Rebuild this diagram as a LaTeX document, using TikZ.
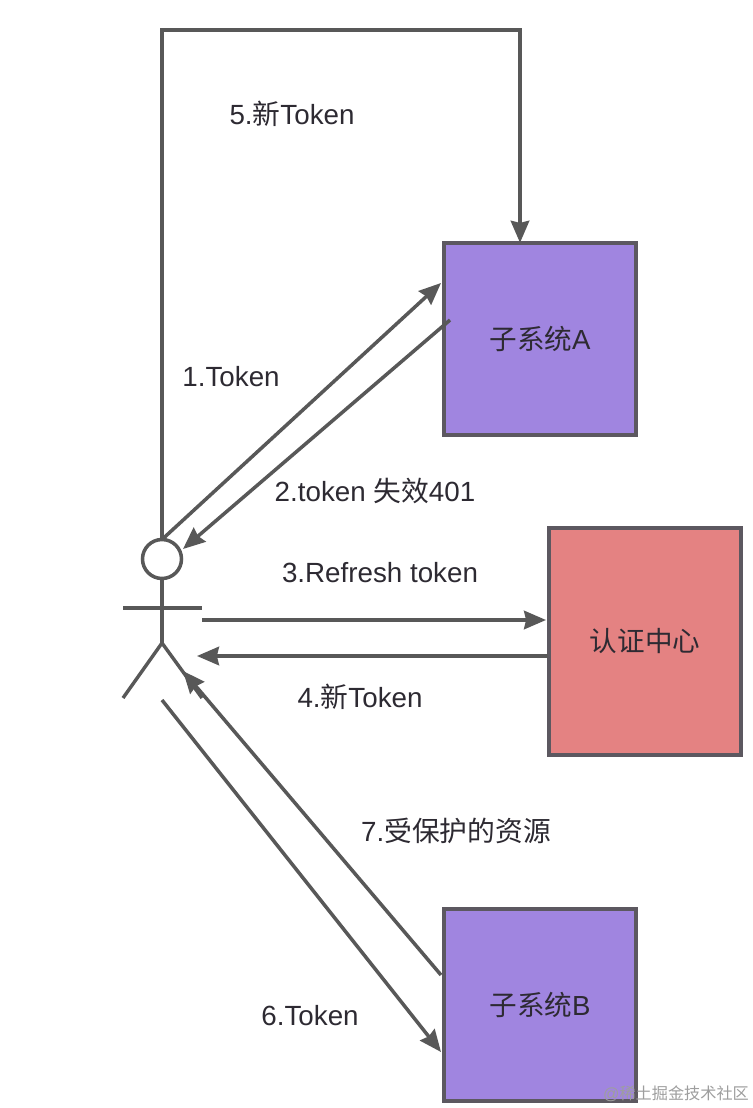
\documentclass[tikz,border=0pt]{standalone}
\usepackage{fontspec}
\setmainfont{Liberation Sans}
\newfontfamily\cjk{Noto Sans CJK SC}
\usetikzlibrary{arrows.meta,positioning}
\definecolor{linegray}{RGB}{88,88,88}
\definecolor{boxgray}{RGB}{92,88,96}
\definecolor{sysviolet}{RGB}{160,133,224}
\definecolor{authred}{RGB}{228,130,130}
\definecolor{labeldark}{RGB}{45,42,50}
\tikzset{
  sysbox/.style={draw=boxgray,line width=2.3pt,fill=sysviolet,minimum width=3.85cm,minimum height=3.85cm,inner sep=0pt,outer sep=0pt,text=labeldark,font=\fontsize{15.7}{18}\selectfont},
  authbox/.style={sysbox,fill=authred,minimum height=4.55cm},
  flow/.style={draw=linegray,line width=2pt,-{Stealth[length=12.5pt,width=10.5pt,inset=1.2pt]}},
  stick/.style={draw=linegray,line width=1.95pt},
  steplabel/.style={text=labeldark,font=\fontsize{15.8}{18}\selectfont,inner sep=0pt},
}
\begin{document}
\begin{tikzpicture}[x=0.02cm,y=-0.02cm]
\useasboundingbox (0,0) rectangle (752,1108);
\fill[white] (0,0) rectangle (752,1108);
\node[sysbox] (sysA) at (540,339) {{\cjk 子系统}A};
\node[sysbox] (sysB) at (540,1005) {{\cjk 子系统}B};
\node[authbox] (auth) at (645,641.5) {\cjk 认证中心};
\node[draw=linegray,line width=2pt,circle,minimum size=0.78cm,inner sep=0pt,outer sep=0pt] (head) at (162,559) {};
% stick figure
\coordinate (hip) at (162,643);
\coordinate (armL) at (123,608);
\coordinate (armR) at (202,608);
\coordinate (footL) at (123,698);
\coordinate (footR) at (202,698);
\draw[stick] (head.south) -- (hip);
\draw[stick] (armL) -- (armR);
\draw[stick] (footL) -- (hip) -- (footR);
% free ends of the flows
\coordinate (topL) at (162,30);
\coordinate (topR) at (520,30);
\coordinate (inA) at (441,283);
\coordinate (outA) at (450,320);
\coordinate (backHead) at (183,549);
\coordinate (outRefresh) at (202,620);
\coordinate (inAuth) at (546,620);
\coordinate (outAuth) at (548,656);
\coordinate (inNew) at (197,656);
\coordinate (outToken) at (162,700);
\coordinate (inB) at (441,1052);
\coordinate (outB) at (441,975);
\coordinate (inRes) at (183,671);
\draw[flow] (head.north) -- (topL) -- (topR) -- (topR |- sysA.north);
\draw[flow] (head.north) -- (inA);
\draw[flow] (outA) -- (backHead);
\draw[flow] (outRefresh) -- (inAuth);
\draw[flow] (outAuth) -- (inNew);
\draw[flow] (outToken) -- (inB);
\draw[flow] (outB) -- (inRes);
\node[steplabel] (lab5) at (292,114) {5.{\cjk 新}Token};
\node[steplabel] (lab1) at (231,377) {1.Token};
\node[steplabel] (lab2) at (375,491) {2.token {\cjk 失效}401};
\node[steplabel] (lab3) at (380,573) {3.Refresh token};
\node[steplabel] (lab4) at (360,697) {4.{\cjk 新}Token};
\node[steplabel] (lab7) at (456,831) {7.{\cjk 受保护的资源}};
\node[steplabel] (lab6) at (310,1016) {6.Token};
\node[text=black!38,inner sep=0pt,font=\fontsize{9.2}{10}\selectfont] (mark) at (676,1094) {@{\cjk 稀土掘金技术社区}};
\end{tikzpicture}
\end{document}
